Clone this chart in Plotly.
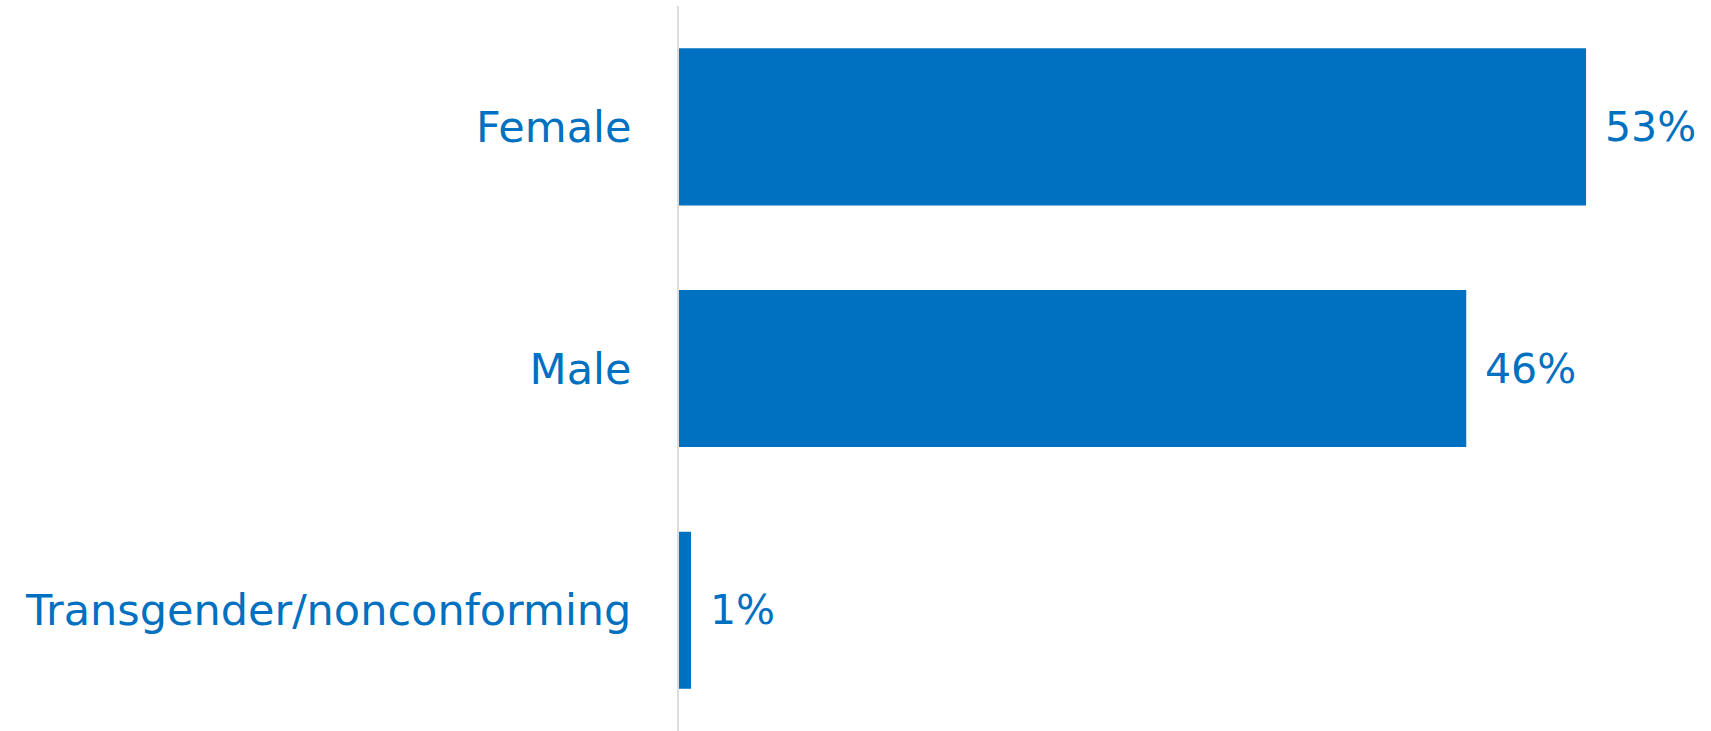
import plotly.graph_objects as go

categories = ["Female", "Male", "Transgender/nonconforming"]
values = [53, 46, 0.7]
labels = ["53%", "46%", "1%"]

BLUE = "#0070C0"
FONT = "DejaVu Sans"

fig = go.Figure(go.Bar(
    x=values,
    y=categories,
    orientation="h",
    marker=dict(color=BLUE, line=dict(width=0)),
    hoverinfo="skip",
))

for cat, val, lab in zip(categories, values, labels):
    fig.add_annotation(
        x=val, y=cat, text=lab, showarrow=False,
        xanchor="left", yanchor="middle", xshift=17,
        font=dict(family=FONT, size=41, color=BLUE),
    )

fig.update_layout(
    width=1711,
    height=731,
    margin=dict(l=679, r=0, t=6, b=0),
    paper_bgcolor="white",
    plot_bgcolor="white",
    bargap=0.35,
    showlegend=False,
    xaxis=dict(range=[0, 60.3], visible=False, fixedrange=True),
    yaxis=dict(
        autorange="reversed",
        showline=True,
        linecolor="#dcdcdc",
        linewidth=2,
        showgrid=False,
        zeroline=False,
        ticks="",
        ticklabelstandoff=37,
        tickfont=dict(family=FONT, size=43, color=BLUE),
        fixedrange=True,
    ),
)

fig.write_html(
    "out.html",
    config={"displayModeBar": False},
    post_script="document.body.style.margin='0px';",
)
